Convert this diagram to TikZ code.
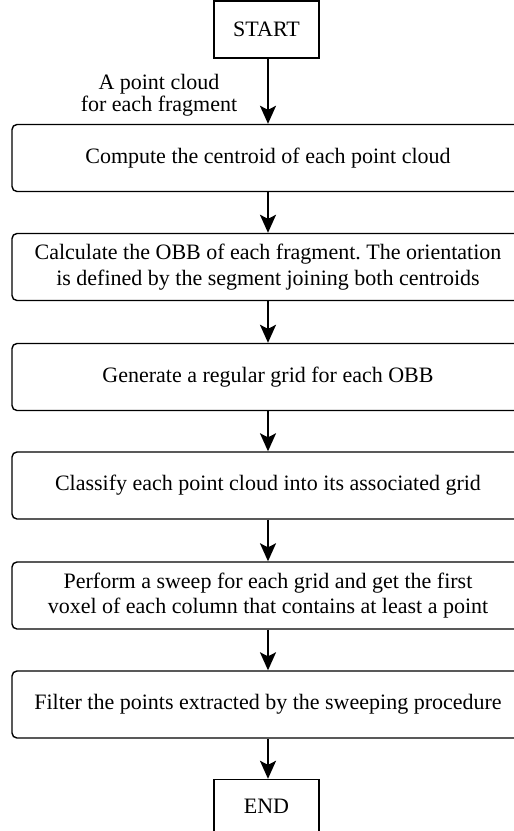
\documentclass[tikz,border=0pt]{standalone}
\usepackage{fontspec}
\setmainfont{Liberation Serif}
\usetikzlibrary{arrows.meta}
\frenchspacing
\begin{document}
\begin{tikzpicture}[x=1pt,y=-1pt,
  stepbox/.style={draw,line width=1.4pt,rounded corners=5pt,minimum width=512pt,minimum height=67pt,align=center,font=\fontsize{22}{25.5}\selectfont,inner sep=0pt},
  termbox/.style={draw,line width=1.4pt,minimum width=105pt,align=center,font=\fontsize{22}{25.5}\selectfont,inner sep=0pt},
  flow/.style={line width=1.8pt,-{Stealth[length=18pt,width=16pt,inset=4pt]}}]
\useasboundingbox (0,0) rectangle (514,831);
\clip (0,0) rectangle (514,831);
\node[termbox,minimum height=57pt] (start) at (266.5,29.5) {START};
\node[stepbox] (b1) at (268,158) {Compute the centroid of each point cloud};
\node[stepbox] (b2) at (268,267) {Calculate the OBB of each fragment. The orientation\\is defined by the segment joining both centroids};
\node[stepbox] (b3) at (268,377) {Generate a regular grid for each OBB};
\node[stepbox] (b4) at (268,485.5) {Classify each point cloud into its associated grid};
\node[stepbox] (b5) at (268,595.5) {Perform a sweep for each grid and get the first\\voxel of each column that contains at least a point};
\node[stepbox] (b6) at (268,704.5) {Filter the points extracted by the sweeping procedure};
\node[termbox,minimum height=53pt] (end) at (266.5,806) {END};
\node[align=center,font=\fontsize{22}{22}\selectfont,inner sep=0pt] (lbl) at (159,95.5) {A point cloud\\for each fragment};
\draw[flow] (start.south -| 268,0) -- (b1.north -| 268,0);
\draw[flow] (b1) -- (b2);
\draw[flow] (b2) -- (b3);
\draw[flow] (b3) -- (b4);
\draw[flow] (b4) -- (b5);
\draw[flow] (b5) -- (b6);
\draw[flow] (b6.south -| 268,0) -- (end.north -| 268,0);
\end{tikzpicture}
\end{document}
